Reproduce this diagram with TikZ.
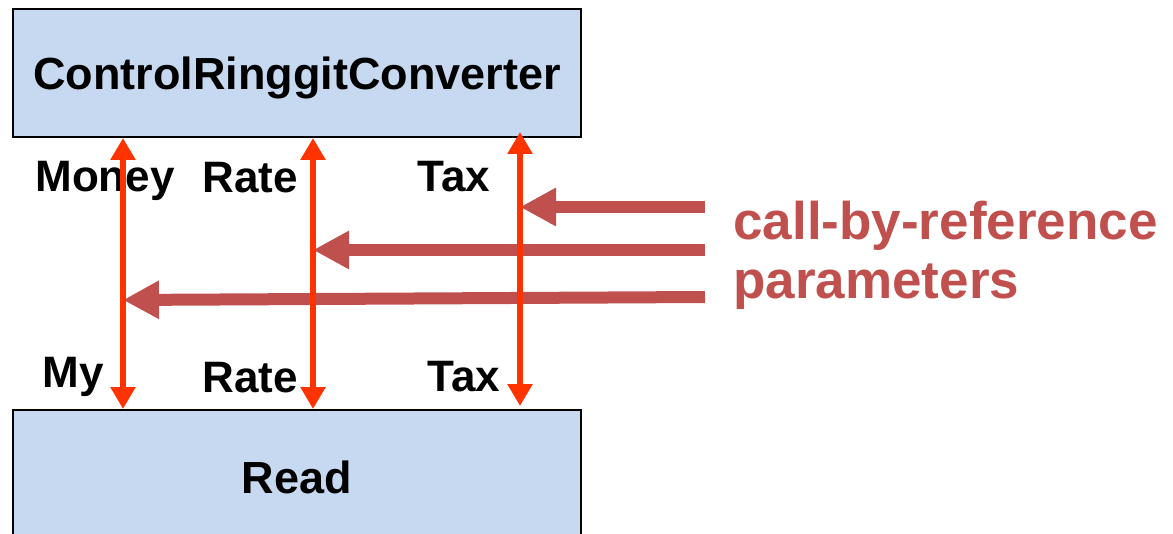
\documentclass[tikz,border=0pt]{standalone}
\usepackage{fontspec}
\setmainfont{Liberation Sans}
\usepackage{tikz}
\usetikzlibrary{arrows.meta, positioning, calc}
\definecolor{modfill}{HTML}{C6D9F1}
\definecolor{flowred}{HTML}{FF3300}
\definecolor{refbrown}{HTML}{C0504D}

\begin{document}
\begin{tikzpicture}[x=0.5pt, y=-0.5pt,
  module/.style={draw=black, line width=1pt, fill=modfill, minimum width=284pt, inner sep=0pt, text depth=0pt, font=\bfseries\fontsize{22.5}{27}\selectfont},
  param/.style={anchor=base west, inner sep=0pt, font=\bfseries\fontsize{22}{26}\selectfont},
  note/.style={anchor=base west, inner sep=0pt, text=refbrown, font=\bfseries\fontsize{26.5}{32}\selectfont},
  flow/.style={flowred, line width=3pt, {Triangle[length=11pt,width=12pt]}-{Triangle[length=11pt,width=12pt]}},
  byref/.style={refbrown, line width=6pt, -{Triangle[length=18pt,width=18pt]}}]
\useasboundingbox (0,0) rectangle (1173,534);
% Modules
\node[module, minimum height=64pt] (ctrl) at (297,73) {ControlRinggitConverter};
\node[module, minimum height=67pt] (read) at (297,477) {Read};
% Parameter columns
\coordinate (colM) at (123,0);
\coordinate (colR) at (313,0);
\coordinate (colT) at (520,0);
% Parameter names, caller side
\node[param] (upMoney) at (35,192) {Money};
\node[param] (upRate) at (202,193) {Rate};
\node[param] (upTax) at (417,192) {Tax};
% Parameter names, callee side
\node[param] (dnMy) at (42,387) {My};
\node[param] (dnRate) at (202,393) {Rate};
\node[param] (dnTax) at (427,392) {Tax};
% Note
\node[note] (noteA) at (733,240) {call-by-reference};
\node[note] (noteB) at (733,299) {parameters};
\coordinate (refT) at (705,207);
\coordinate (refR) at (705,250);
\coordinate (refM) at (705,297);
\draw[byref] (refT) -- (colT |- refT);
\draw[byref] (refR) -- (colR |- refR);
\draw[byref] (refM) -- ($(colM |- refM)+(0,3)$);
% Data flow
\draw[flow] (ctrl.south -| colM) -- (read.north -| colM);
\draw[flow] (ctrl.south -| colR) -- (read.north -| colR);
\draw[flow, shorten <=-3pt, shorten >=1.5pt] (ctrl.south -| colT) -- (read.north -| colT);
\end{tikzpicture}
\end{document}
